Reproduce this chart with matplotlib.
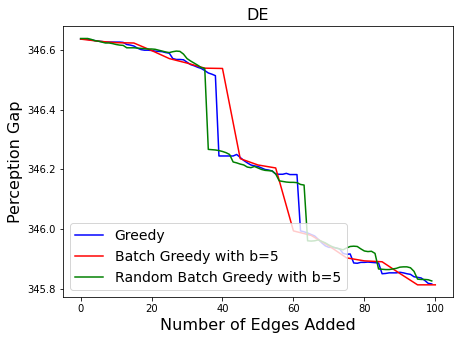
import numpy as np
import matplotlib.pyplot as plt

# Greedy: one value per added edge (0..99)
greedy = [
    346.635, 346.635, 346.634, 346.632, 346.630, 346.628, 346.627, 346.625, 346.625, 346.625,
    346.625, 346.625, 346.624, 346.617, 346.615, 346.612, 346.605, 346.600, 346.598, 346.598,
    346.597, 346.595, 346.594, 346.593, 346.590, 346.588, 346.570, 346.567, 346.567, 346.566,
    346.558, 346.550, 346.546, 346.541, 346.537, 346.530, 346.522, 346.518, 346.513, 346.245,
    346.245, 346.245, 346.245, 346.245, 346.250, 346.240, 346.230, 346.222, 346.215, 346.212,
    346.210, 346.205, 346.200, 346.198, 346.195, 346.185, 346.184, 346.184, 346.187, 346.183,
    346.183, 346.183, 345.995, 345.992, 345.988, 345.983, 345.978, 345.967, 345.955, 345.945,
    345.940, 345.940, 345.938, 345.935, 345.920, 345.917, 345.918, 345.888, 345.887, 345.890,
    345.890, 345.891, 345.890, 345.889, 345.888, 345.852, 345.853, 345.855, 345.855, 345.855,
    345.857, 345.855, 345.852, 345.850, 345.842, 345.840, 345.838, 345.830, 345.820, 345.818,
]

# Batch greedy: one value per batch of 5 edges (0, 5, ..., 100)
batch_x = list(range(0, 101, 5))
batch = [
    346.635, 346.628, 346.623, 346.622, 346.597, 346.570, 346.555, 346.538, 346.537, 346.236,
    346.215, 346.205, 345.995, 345.980, 345.945, 345.905, 345.895, 345.892, 345.853, 345.815,
    345.815,
]

# Random batch greedy: one value per added edge (0..99)
random_batch = [
    346.637, 346.637, 346.637, 346.634, 346.630, 346.628, 346.625, 346.622, 346.622, 346.620,
    346.617, 346.615, 346.614, 346.606, 346.606, 346.606, 346.605, 346.604, 346.603, 346.602,
    346.602, 346.601, 346.598, 346.595, 346.592, 346.590, 346.593, 346.595, 346.594, 346.585,
    346.570, 346.562, 346.555, 346.548, 346.540, 346.537, 346.267, 346.266, 346.265, 346.263,
    346.260, 346.256, 346.250, 346.225, 346.222, 346.218, 346.215, 346.208, 346.206, 346.210,
    346.205, 346.200, 346.197, 346.196, 346.195, 346.185, 346.162, 346.160, 346.158, 346.157,
    346.157, 346.156, 346.150, 346.148, 345.962, 345.961, 345.962, 345.965, 345.960, 345.955,
    345.948, 345.942, 345.938, 345.935, 345.932, 345.938, 345.943, 345.944, 345.943, 345.935,
    345.928, 345.926, 345.927, 345.920, 345.868, 345.867, 345.866, 345.866, 345.868, 345.870,
    345.874, 345.875, 345.875, 345.872, 345.860, 345.834, 345.833, 345.833, 345.832, 345.828,
]

fig = plt.figure(figsize=(459 / 72, 340 / 72), dpi=72)
ax = fig.add_axes([0.137, 0.126, 0.850, 0.797])

ax.plot(np.arange(len(greedy)), greedy, color="blue", lw=1.5, label="Greedy")
ax.plot(batch_x, batch, color="red", lw=1.5, label="Batch Greedy with b=5")
ax.plot(np.arange(len(random_batch)), random_batch, color="green", lw=1.5,
        label="Random Batch Greedy with b=5")

ax.set_xticks([0, 20, 40, 60, 80, 100])
ax.set_yticks([345.8, 346.0, 346.2, 346.4, 346.6])
ax.set_title("DE", fontsize=16)
ax.set_xlabel("Number of Edges Added", fontsize=16)
ax.set_ylabel("Perception Gap", fontsize=16)
ax.legend(loc="lower left", fontsize=14)

fig.savefig("out.png", dpi=72)
